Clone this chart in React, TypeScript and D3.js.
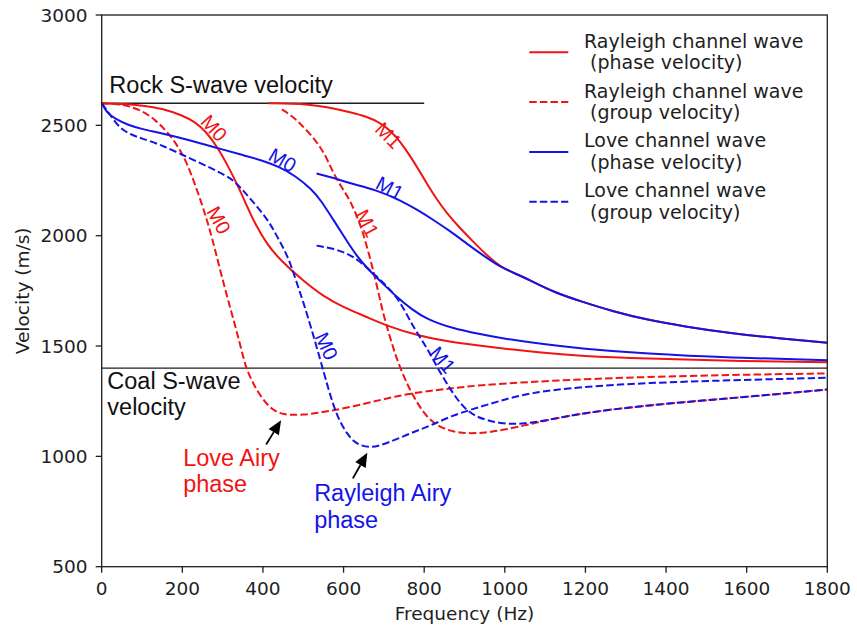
import React from "react";
import * as d3 from "d3";

// Dispersion curves: [frequency (Hz), velocity (m/s)]
const rayleighPhaseM0: [number, number][] = [
  [0, 2600], [60, 2597], [100, 2590], [149, 2577], [200, 2545], [231, 2516], [260, 2470],
  [289, 2396], [315, 2310], [339, 2222], [360, 2135], [380, 2056], [410, 1960], [447, 1882],
  [500, 1795], [550, 1725], [600, 1675], [657, 1632], [707, 1592], [781, 1548], [860, 1520],
  [938, 1502], [1000, 1488], [1100, 1468], [1187, 1455], [1350, 1443], [1559, 1433], [1800, 1426],
];
const rayleighGroupM0: [number, number][] = [
  [0, 2600], [40, 2597], [66, 2588], [100, 2566], [132, 2527], [160, 2475], [182, 2425],
  [200, 2370], [215, 2312], [232, 2230], [248, 2146], [262, 2065], [273, 1995], [289, 1880],
  [310, 1730], [330, 1600], [345, 1495], [358, 1400], [372, 1345], [385, 1300], [405, 1245],
  [426, 1209], [445, 1193], [467, 1187], [500, 1189], [533, 1195], [616, 1222], [700, 1260],
  [765, 1285], [850, 1305], [938, 1323], [1060, 1337], [1187, 1349], [1350, 1360], [1559, 1369],
  [1800, 1376],
];
const lovePhaseM0: [number, number][] = [
  [0, 2600], [8, 2575], [15, 2555], [33, 2530], [66, 2501], [100, 2483], [149, 2464], [220, 2432],
  [289, 2396], [350, 2365], [397, 2342], [440, 2312], [480, 2272], [521, 2210], [542, 2165],
  [579, 2060], [610, 1970], [633, 1908], [657, 1855], [699, 1780], [732, 1722], [770, 1665],
  [806, 1622], [870, 1580], [938, 1554], [988, 1536], [1100, 1507], [1187, 1489], [1350, 1465],
  [1559, 1447], [1800, 1436],
];
const loveGroupM0: [number, number][] = [
  [0, 2600], [10, 2575], [21, 2548], [41, 2495], [66, 2462], [100, 2440], [149, 2411],
  [231, 2340], [314, 2270], [340, 2228], [370, 2165], [413, 2071], [434, 2000], [455, 1930],
  [470, 1865], [484, 1785], [500, 1700], [520, 1580], [542, 1440], [560, 1320], [575, 1230],
  [590, 1160], [608, 1104], [625, 1068], [641, 1050], [666, 1040], [690, 1048], [732, 1078],
  [780, 1115], [823, 1145], [870, 1185], [922, 1215], [988, 1252], [1062, 1288], [1187, 1315],
  [1352, 1333], [1559, 1345], [1800, 1356],
];
const rayleighPhaseM1: [number, number][] = [
  [413, 2600], [450, 2600], [492, 2597], [533, 2589], [575, 2577], [616, 2560], [657, 2540],
  [690, 2512], [715, 2478], [740, 2428], [765, 2362], [790, 2288], [806, 2238], [830, 2168],
  [856, 2102], [890, 2032], [922, 1972], [955, 1912], [988, 1859], [1030, 1825], [1062, 1799],
  [1120, 1745], [1187, 1703], [1270, 1656], [1352, 1619], [1450, 1587], [1559, 1558],
  [1680, 1534], [1800, 1515],
];
const rayleighGroupM1: [number, number][] = [
  [447, 2572], [470, 2545], [492, 2509], [520, 2455], [542, 2403], [560, 2345], [575, 2282],
  [595, 2220], [616, 2161], [635, 2080], [649, 2010], [670, 1870], [685, 1755], [699, 1640],
  [716, 1535], [732, 1440], [750, 1360], [765, 1300], [785, 1235], [806, 1180], [830, 1143],
  [856, 1120], [885, 1108], [914, 1104], [950, 1107], [996, 1119], [1060, 1145], [1120, 1170],
  [1200, 1197], [1286, 1217], [1370, 1233], [1451, 1247], [1616, 1272], [1800, 1303],
];
const lovePhaseM1: [number, number][] = [
  [533, 2282], [575, 2262], [616, 2237], [682, 2207], [740, 2161], [785, 2115], [823, 2071],
  [865, 2020], [905, 1965], [945, 1912], [988, 1859], [1030, 1825], [1062, 1799], [1120, 1745],
  [1187, 1703], [1270, 1656], [1352, 1619], [1450, 1587], [1559, 1558], [1680, 1534], [1800, 1515],
];
const loveGroupM1: [number, number][] = [
  [533, 1955], [570, 1943], [608, 1922], [640, 1885], [674, 1829], [700, 1785], [732, 1723],
  [755, 1650], [773, 1587], [795, 1525], [814, 1467], [835, 1395], [856, 1330], [880, 1262],
  [905, 1209], [930, 1180], [955, 1164], [990, 1150], [1021, 1146], [1050, 1150], [1079, 1156],
  [1120, 1170], [1200, 1197], [1286, 1217], [1370, 1233], [1451, 1247], [1616, 1272], [1800, 1303],
];

const xTicks = [0, 200, 400, 600, 800, 1000, 1200, 1400, 1600, 1800];
const yTicks = [500, 1000, 1500, 2000, 2500, 3000];

const rockVelocity = 2600;
const coalVelocity = 1400;

const RED = "#f01414";
const BLUE = "#1414e6";
const INK = "#1e1e1e";

const legendEntries = [
  { line1: "Rayleigh channel wave", line2: " (phase velocity)", color: RED, dashed: false },
  { line1: "Rayleigh channel wave", line2: " (group velocity)", color: RED, dashed: true },
  { line1: "Love channel wave", line2: " (phase velocity)", color: BLUE, dashed: false },
  { line1: "Love channel wave", line2: " (group velocity)", color: BLUE, dashed: true },
];

// Mode labels placed along the curves: frequency, velocity, rotation in degrees
const modeLabels = [
  { text: "M0", f: 279, v: 2488, rot: 48, color: RED },
  { text: "M0", f: 291, v: 2071, rot: 61, color: RED },
  { text: "M0", f: 449, v: 2343, rot: 30, color: BLUE },
  { text: "M0", f: 558, v: 1500, rot: 65, color: BLUE },
  { text: "M1", f: 712, v: 2455, rot: 45, color: RED },
  { text: "M1", f: 659, v: 2057, rot: 62, color: RED },
  { text: "M1", f: 715, v: 2216, rot: 28, color: BLUE },
  { text: "M1", f: 846, v: 1438, rot: 50, color: BLUE },
];

const W = 857;
const H = 632;
const x = d3.scaleLinear().domain([0, 1800]).range([101.7, 827.3]);
const y = d3.scaleLinear().domain([500, 3000]).range([566.7, 15]);

const line = d3
  .line<[number, number]>()
  .x((d) => x(d[0]))
  .y((d) => y(d[1]))
  .curve(d3.curveBasis);

const DASH = "7.4 3.2";
const TICK_FONT = "'DejaVu Sans', sans-serif";
const NOTE_FONT = "'Liberation Sans', Arial, sans-serif";
const NOTE_SIZE = 23.5;

function Curve({ data, color, dashed }: { data: [number, number][]; color: string; dashed?: boolean }) {
  return (
    <path
      d={line(data) ?? ""}
      fill="none"
      stroke={color}
      strokeWidth={2}
      strokeDasharray={dashed ? DASH : undefined}
    />
  );
}

function Arrow({ from, to }: { from: [number, number]; to: [number, number] }) {
  const x0 = x(from[0]);
  const y0 = y(from[1]);
  const x1 = x(to[0]);
  const y1 = y(to[1]);
  const ang = Math.atan2(y1 - y0, x1 - x0);
  const headLen = 14;
  const headHalf = 6;
  const bx = x1 - headLen * Math.cos(ang);
  const by = y1 - headLen * Math.sin(ang);
  const px = -Math.sin(ang) * headHalf;
  const py = Math.cos(ang) * headHalf;
  return (
    <g>
      <line x1={x0} y1={y0} x2={bx} y2={by} stroke="#000" strokeWidth={1.8} />
      <path d={`M${x1},${y1}L${bx + px},${by + py}L${bx - px},${by - py}Z`} fill="#000" />
    </g>
  );
}

export default function App() {
  const legendX0 = 529.3;
  const legendX1 = 568.3;
  const legendTextX = 584;
  const legendTop = 52.3;
  const legendStep = 49.8;

  return (
    <svg
      width={W}
      height={H}
      viewBox={`0 0 ${W} ${H}`}
      style={{ position: "absolute", left: 0, top: 0, background: "#fff" }}
    >
      <rect x={0} y={0} width={W} height={H} fill="#fff" />

      {/* reference velocity lines */}
      <line x1={x(0)} x2={x(800)} y1={y(rockVelocity)} y2={y(rockVelocity)} stroke={INK} strokeWidth={1.3} />
      <line x1={x(0)} x2={x(1800)} y1={y(coalVelocity)} y2={y(coalVelocity)} stroke={INK} strokeWidth={1.3} />

      {/* dispersion curves */}
      <Curve data={rayleighPhaseM0} color={RED} />
      <Curve data={rayleighGroupM0} color={RED} dashed />
      <Curve data={rayleighPhaseM1} color={RED} />
      <Curve data={rayleighGroupM1} color={RED} dashed />
      <Curve data={lovePhaseM0} color={BLUE} />
      <Curve data={loveGroupM0} color={BLUE} dashed />
      <Curve data={lovePhaseM1} color={BLUE} />
      <Curve data={loveGroupM1} color={BLUE} dashed />

      {/* mode labels */}
      {modeLabels.map((m, i) => (
        <text
          key={i}
          transform={`translate(${x(m.f)},${y(m.v)}) rotate(${m.rot})`}
          textAnchor="middle"
          dy="0.36em"
          fontFamily={NOTE_FONT}
          fontSize={20}
          fill={m.color}
        >
          {m.text}
        </text>
      ))}

      {/* annotations */}
      <text x={x(19)} y={y(2647)} fontFamily={NOTE_FONT} fontSize={NOTE_SIZE} fill="#111">
        Rock S-wave velocity
      </text>
      <text fontFamily={NOTE_FONT} fontSize={NOTE_SIZE} fill="#111">
        <tspan x={x(14)} y={y(1303)}>Coal S-wave</tspan>
        <tspan x={x(14)} y={y(1303) + 26}>velocity</tspan>
      </text>
      <text fontFamily={NOTE_FONT} fontSize={NOTE_SIZE} fill={RED}>
        <tspan x={x(202)} y={y(957)}>Love Airy</tspan>
        <tspan x={x(202)} y={y(957) + 26}>phase</tspan>
      </text>
      <text fontFamily={NOTE_FONT} fontSize={NOTE_SIZE} fill={BLUE}>
        <tspan x={x(527)} y={y(797)}>Rayleigh Airy</tspan>
        <tspan x={x(527)} y={y(797) + 26.5}>phase</tspan>
      </text>
      <Arrow from={[408, 1054]} to={[445, 1164]} />
      <Arrow from={[623, 900]} to={[659, 1016]} />

      {/* frame */}
      <rect
        x={x(0)}
        y={y(3000)}
        width={x(1800) - x(0)}
        height={y(500) - y(3000)}
        fill="none"
        stroke={INK}
        strokeWidth={1.3}
      />

      {/* x axis */}
      {xTicks.map((t) => (
        <g key={`x${t}`}>
          <line x1={x(t)} x2={x(t)} y1={y(500)} y2={y(500) + 6} stroke={INK} strokeWidth={1.3} />
          <text x={x(t)} y={595} textAnchor="middle" fontFamily={TICK_FONT} fontSize={18.5} fill={INK}>
            {t}
          </text>
        </g>
      ))}
      <text x={(x(0) + x(1800)) / 2} y={620} textAnchor="middle" fontFamily={TICK_FONT} fontSize={18.5} fill={INK}>
        Frequency (Hz)
      </text>

      {/* y axis */}
      {yTicks.map((t) => (
        <g key={`y${t}`}>
          <line x1={x(0) - 6} x2={x(0)} y1={y(t)} y2={y(t)} stroke={INK} strokeWidth={1.3} />
          <text
            x={87.5}
            y={y(t)}
            dy="0.36em"
            textAnchor="end"
            fontFamily={TICK_FONT}
            fontSize={18.5}
            fill={INK}
          >
            {t}
          </text>
        </g>
      ))}
      <text
        transform={`translate(28.5,${(y(500) + y(3000)) / 2}) rotate(-90)`}
        textAnchor="middle"
        fontFamily={TICK_FONT}
        fontSize={18.5}
        fill={INK}
      >
        Velocity (m/s)
      </text>

      {/* legend */}
      {legendEntries.map((e, i) => {
        const ly = legendTop + i * legendStep;
        return (
          <g key={`lg${i}`}>
            <line
              x1={legendX0}
              x2={legendX1}
              y1={ly}
              y2={ly}
              stroke={e.color}
              strokeWidth={2}
              strokeDasharray={e.dashed ? DASH : undefined}
            />
            <text fontFamily={TICK_FONT} fontSize={19} fill={INK} style={{ whiteSpace: "pre" }}>
              <tspan x={legendTextX} y={ly - 4.6}>
                {e.line1}
              </tspan>
              <tspan x={legendTextX} y={ly + 17}>
                {e.line2}
              </tspan>
            </text>
          </g>
        );
      })}
    </svg>
  );
}
